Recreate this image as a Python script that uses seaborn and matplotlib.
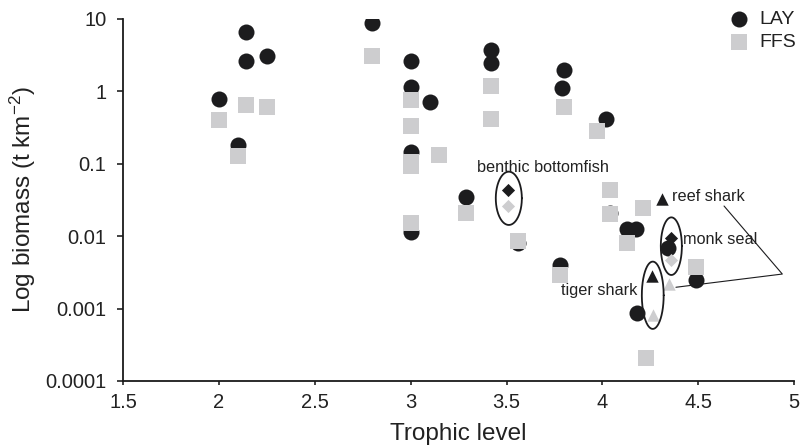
import numpy as np
import pandas as pd
import matplotlib
matplotlib.use("Agg")
import matplotlib.pyplot as plt
import seaborn as sns

# ---- data ----
lay_x = [2.0, 2.14, 2.14, 2.25, 2.1, 2.8, 3.0, 3.0, 3.1, 3.0, 3.0, 3.29, 3.42, 3.42,
         3.56, 3.8, 3.79, 3.78, 4.02, 4.04, 4.13, 4.175, 4.18, 4.34, 4.49]
lay_y = [0.78, 6.7, 2.65, 3.08, 0.18, 8.7, 2.63, 1.14, 0.71, 0.147, 0.0115, 0.035, 3.73, 2.44,
         0.0080, 1.98, 1.10, 0.0040, 0.416, 0.021, 0.0126, 0.0126, 0.00088, 0.0068, 0.0025]
ffs_x = [2.0, 2.14, 2.25, 2.1, 2.8, 3.0, 3.0, 3.0, 3.0, 3.0, 3.15, 3.29, 3.42, 3.42,
         3.56, 3.8, 3.97, 3.78, 4.04, 4.04, 4.13, 4.21, 4.227, 4.49]
ffs_y = [0.40, 0.64, 0.60, 0.128, 3.08, 0.76, 0.33, 0.107, 0.094, 0.0151, 0.132, 0.0207, 1.19, 0.416,
         0.0087, 0.60, 0.284, 0.0029, 0.0435, 0.0200, 0.0080, 0.0245, 0.00021, 0.0038]

# highlighted groups
group_names = ["benthic bottomfish", "reef shark", "monk seal", "tiger shark"]
group_marker = ["D", "^", "D", "^"]
group_lay_x = [3.507, 4.31, 4.357, 4.26]
group_lay_y = [0.0435, 0.033, 0.0094, 0.0028]
group_ffs_x = [3.51, 4.35, 4.36, 4.263]
group_ffs_y = [0.026, 0.0022, 0.0047, 0.00082]

x_ticks = [1.5, 2, 2.5, 3, 3.5, 4, 4.5, 5]
x_tick_labels = ["1.5", "2", "2.5", "3", "3.5", "4", "4.5", "5"]
y_ticks = [0.0001, 0.001, 0.01, 0.1, 1, 10]
y_tick_labels = ["0.0001", "0.001", "0.01", "0.1", "1", "10"]

BLACK = "#1c1c1e"
GREY = "#cdcdcf"
TXT = "#222222"

sns.set_theme(style="ticks")
plt.rcParams["font.family"] = ["Liberation Sans", "DejaVu Sans"]
plt.rcParams["mathtext.fontset"] = "custom"
plt.rcParams["mathtext.rm"] = "Liberation Sans"
plt.rcParams["mathtext.it"] = "Liberation Sans:italic"

fig = plt.figure(figsize=(8, 4.48), dpi=100)
ax = fig.add_axes([0.154, 0.1496, 0.8385, 0.808])

lay = pd.DataFrame({"x": lay_x, "y": lay_y})
ffs = pd.DataFrame({"x": ffs_x, "y": ffs_y})

sns.scatterplot(data=lay, x="x", y="y", ax=ax, marker="o", s=133, color=BLACK,
                linewidth=0, label="LAY", zorder=3)
sns.scatterplot(data=ffs, x="x", y="y", ax=ax, marker="s", s=125, color=GREY,
                linewidth=0, label="FFS", zorder=4)

for i in range(len(group_names)):
    sz = 45 if group_marker[i] == "D" else 80
    sns.scatterplot(x=[group_ffs_x[i]], y=[group_ffs_y[i]], ax=ax, marker=group_marker[i],
                    s=sz, color=GREY, linewidth=0, zorder=5, legend=False)
    sns.scatterplot(x=[group_lay_x[i]], y=[group_lay_y[i]], ax=ax, marker=group_marker[i],
                    s=sz, color=BLACK, linewidth=0, zorder=6, legend=False)

# ellipses drawn in log space
def ellipse(cx, logcy, a, b):
    t = np.linspace(0, 2 * np.pi, 200)
    ax.plot(cx + a * np.cos(t), 10 ** (logcy + b * np.sin(t)), color=BLACK, lw=1.3, zorder=7)

ellipse(3.512, -1.477, 0.068, 0.368)
ellipse(4.360, -2.138, 0.055, 0.398)
ellipse(4.263, -2.816, 0.057, 0.465)

# reef shark callout lines
ax.plot([4.635, 4.939, 4.384], [0.0261, 0.0030, 0.00197], color=BLACK, lw=0.8, zorder=7)

txt_kw = dict(fontsize=11.7, color=TXT, zorder=8)
ax.text(3.688, 0.090, "benthic bottomfish", ha="center", va="center", **txt_kw)
ax.text(4.365, 0.035, "reef shark", ha="left", va="center", **txt_kw)
ax.text(4.422, 0.0091, "monk seal", ha="left", va="center", **txt_kw)
ax.text(4.182, 0.0018, "tiger shark", ha="right", va="center", **txt_kw)

ax.set_yscale("log")
ax.set_xlim(1.5, 5)
ax.set_ylim(0.0001, 10)
ax.set_xticks(x_ticks)
ax.set_xticklabels(x_tick_labels)
ax.set_yticks(y_ticks)
ax.set_yticklabels(y_tick_labels)
ax.minorticks_off()
ax.tick_params(axis="both", labelsize=14.5, colors=TXT, width=1.2)
ax.tick_params(axis="y", length=4.5, pad=7.5)
ax.tick_params(axis="x", length=3.2, pad=5.5)
for s in ["top", "right"]:
    ax.spines[s].set_visible(False)
for s in ["left", "bottom"]:
    ax.spines[s].set_linewidth(1.3)
    ax.spines[s].set_color("#1a1a1a")

ax.set_xlabel("Trophic level", fontsize=17.5, color=TXT, labelpad=8)
ax.set_ylabel(r"Log biomass (t km$^{-2}$)", fontsize=17.5, color=TXT, labelpad=5)

leg = ax.legend(loc="upper right", bbox_to_anchor=(0.997, 0.982), bbox_transform=fig.transFigure,
                frameon=False, fontsize=14, handletextpad=0.0, labelspacing=0.3,
                borderaxespad=0, borderpad=0.1, markerscale=1.0)
for t in leg.get_texts():
    t.set_color(TXT)

fig.savefig("out.png", dpi=100)
